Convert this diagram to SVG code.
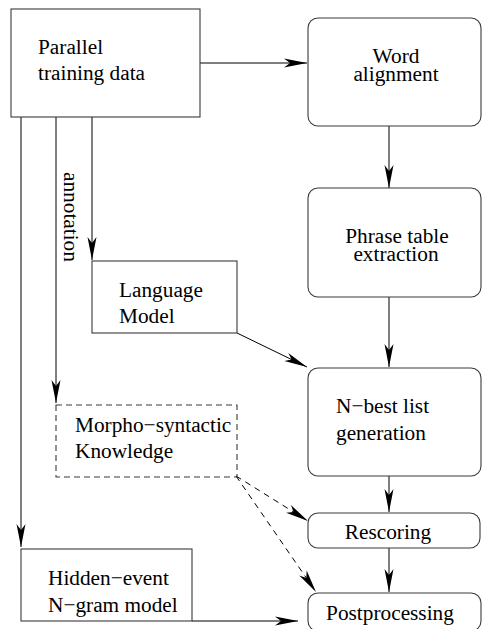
<svg xmlns="http://www.w3.org/2000/svg" width="482" height="629" viewBox="0 0 482 629">
<style>
text{font-family:"Liberation Serif","Times New Roman",serif;font-size:21.3px;fill:#000}
.c{text-anchor:middle}
.box{fill:#fff;stroke:#3a3a3a;stroke-width:1.1}
.dbox{fill:none;stroke:#3a3a3a;stroke-width:1.1;stroke-dasharray:6 4}
.ln{fill:none;stroke:#000;stroke-width:1}
.dl{fill:none;stroke:#000;stroke-width:1;stroke-dasharray:6 5}
</style>
<defs>
<marker id="ah" markerUnits="userSpaceOnUse" markerWidth="26" markerHeight="12" viewBox="-25 -6 26 12" refX="0" refY="0" orient="auto">
<path d="M0,0 L-23,-4.5 L-17,0 L-23,4.5 Z" fill="#000" stroke="none"/>
</marker>
</defs>
<g id="connectors">
<line class="ln" x1="200" y1="63" x2="307" y2="63" marker-end="url(#ah)"/>
<line class="ln" x1="389" y1="126" x2="389" y2="188" marker-end="url(#ah)"/>
<line class="ln" x1="389" y1="297" x2="389" y2="367" marker-end="url(#ah)"/>
<line class="ln" x1="237" y1="333" x2="307" y2="367" marker-end="url(#ah)"/>
<line class="ln" x1="389" y1="476" x2="389" y2="512" marker-end="url(#ah)"/>
<line class="ln" x1="389" y1="548" x2="389" y2="592" marker-end="url(#ah)"/>
<line class="ln" x1="92" y1="117" x2="92" y2="260" marker-end="url(#ah)"/>
<line class="ln" x1="56" y1="117" x2="56" y2="403" marker-end="url(#ah)"/>
<line class="ln" x1="21" y1="117" x2="21" y2="547" marker-end="url(#ah)"/>
<line class="ln" x1="192" y1="621" x2="298" y2="621" marker-end="url(#ah)"/>
<line class="dl" x1="236" y1="476" x2="308" y2="521" marker-end="url(#ah)"/>
<line class="dl" x1="236" y1="476" x2="316" y2="592" marker-end="url(#ah)"/>
<text transform="translate(64,172) rotate(90)">annotation</text>
</g>
<g id="parallel">
<rect class="box" x="11" y="9" width="189" height="108"/>
<text x="38" y="54">Parallel</text>
<text x="38" y="80">training data</text>
</g>
<g id="word">
<rect class="box" x="308" y="18" width="173" height="108" rx="10"/>
<text class="c"><tspan x="396" y="63">Word</tspan><tspan x="396" y="81">alignment</tspan></text>
</g>
<g id="phrase">
<rect class="box" x="308" y="188" width="173" height="109" rx="10"/>
<text class="c"><tspan x="397" y="243">Phrase table</tspan><tspan x="396" y="261">extraction</tspan></text>
</g>
<g id="lm">
<rect class="box" x="92" y="261" width="145" height="72"/>
<text x="119" y="297">Language</text>
<text x="119" y="323">Model</text>
</g>
<g id="nbest">
<rect class="box" x="308" y="368" width="173" height="108" rx="10"/>
<text x="336" y="413">N−best list</text>
<text x="336" y="440">generation</text>
</g>
<g id="morpho">
<rect class="dbox" x="56" y="405" width="181" height="72"/>
<text x="75" y="432">Morpho−syntactic</text>
<text x="75" y="458">Knowledge</text>
</g>
<g id="rescoring">
<rect class="box" x="308" y="513" width="172" height="35" rx="10"/>
<text class="c" x="388" y="539">Rescoring</text>
</g>
<g id="hidden">
<rect class="box" x="21" y="549" width="171" height="72"/>
<text x="48" y="585">Hidden−event</text>
<text x="48" y="612">N−gram model</text>
</g>
<g id="post">
<rect class="box" x="308" y="593" width="173" height="38" rx="10"/>
<text class="c" x="390" y="620">Postprocessing</text>
</g>
</svg>
